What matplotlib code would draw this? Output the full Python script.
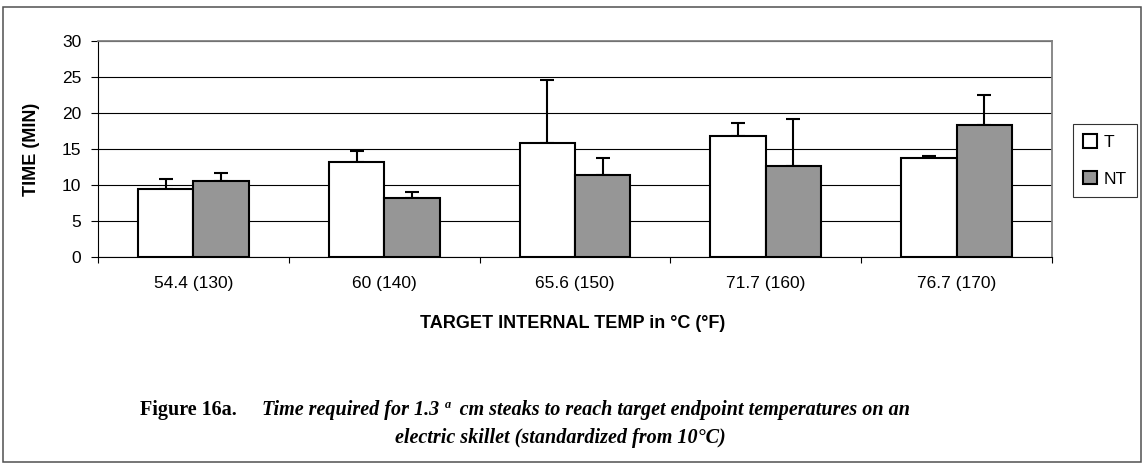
import matplotlib.pyplot as plt
import matplotlib.patches as patches
import numpy as np

categories = ["54.4 (130)", "60 (140)", "65.6 (150)", "71.7 (160)", "76.7 (170)"]
t_mean = [9.5, 13.15, 15.8, 16.8, 13.7]
t_err = [1.3, 1.55, 8.8, 1.8, 0.3]
nt_mean = [10.55, 8.25, 11.4, 12.7, 18.4]
nt_err = [1.05, 0.75, 2.35, 6.5, 4.05]
yticks = [0, 5, 10, 15, 20, 25, 30]

plt.rcParams['font.family'] = ['Liberation Sans', 'DejaVu Sans']

W, H = 1147, 465
fig = plt.figure(figsize=(W / 100, H / 100), dpi=100)
ax = fig.add_axes([98 / W, 1 - 257 / H, (1052 - 98) / W, (257 - 41) / H])

x = np.arange(len(categories))
w = 0.29
ax.bar(x - w / 2, t_mean, w, color="white", edgecolor="black", linewidth=1.5, label="T", zorder=3)
ax.bar(x + w / 2, nt_mean, w, color="#969696", edgecolor="black", linewidth=1.5, label="NT", zorder=3)
ax.errorbar(x - w / 2, t_mean, yerr=[np.zeros(len(x)), t_err], fmt="none", ecolor="black",
            elinewidth=1.5, capsize=4.7, capthick=1.5, zorder=2)
ax.errorbar(x + w / 2, nt_mean, yerr=[np.zeros(len(x)), nt_err], fmt="none", ecolor="black",
            elinewidth=1.5, capsize=4.7, capthick=1.5, zorder=2)

ax.set_xlim(-0.5, len(categories) - 0.5)
ax.set_ylim(0, 30)
ax.set_yticks(yticks)
ax.set_yticklabels([str(v) for v in yticks], fontsize=12.5)
ax.yaxis.grid(True, color="black", linewidth=0.8, zorder=0)
ax.set_axisbelow(True)

ax.set_xticks(x)
ax.set_xticklabels(categories, fontsize=12.5)
ax.tick_params(axis="x", which="major", length=0, pad=14)
ax.set_xticks(np.arange(-0.5, len(categories), 1.0), minor=True)
ax.tick_params(axis="x", which="minor", length=4.5, width=0.8, direction="out")
ax.tick_params(axis="y", length=5, width=0.8, direction="out", pad=7)

for s in ["top", "right"]:
    ax.spines[s].set_color("#808080")
    ax.spines[s].set_linewidth(1.3)
ax.spines["left"].set_linewidth(0.8)
ax.spines["bottom"].set_linewidth(0.8)

fig.text(31 / W, 1 - 149 / H, "TIME (MIN)", rotation=90, fontsize=13, fontweight="bold",
         ha="center", va="center")
fig.text(573 / W, 1 - 324 / H, "TARGET INTERNAL TEMP in °C (°F)", fontsize=13,
         fontweight="bold", ha="center", va="center")

leg = fig.legend(loc="upper left", bbox_to_anchor=(1073 / W, 1 - 124 / H), fontsize=12.5,
                 frameon=True, fancybox=False, edgecolor="black", handlelength=0.8,
                 handleheight=0.8, handletextpad=0.35, borderpad=0.6, labelspacing=1.2,
                 borderaxespad=0)
leg.get_frame().set_linewidth(0.8)

fig.text(140 / W, 1 - 410 / H, "Figure 16a.", family="Liberation Serif", fontweight="bold",
         fontsize=14.5, ha="left", va="center")
fig.text(262 / W, 1 - 410 / H,
         "Time required for 1.3 ª  cm steaks to reach target endpoint temperatures on an",
         family="Liberation Serif", fontweight="bold", style="italic", fontsize=14.5,
         ha="left", va="center")
fig.text(560 / W, 1 - 438 / H, "electric skillet (standardized from 10°C)",
         family="Liberation Serif", fontweight="bold", style="italic", fontsize=14.5,
         ha="center", va="center")

fig.patches.append(patches.Rectangle((3 / W, 1 - 462 / H), 1138 / W, 455 / H,
                                     transform=fig.transFigure, fill=False,
                                     edgecolor="#505050", linewidth=1.1))

fig.savefig("out.png", dpi=100)
